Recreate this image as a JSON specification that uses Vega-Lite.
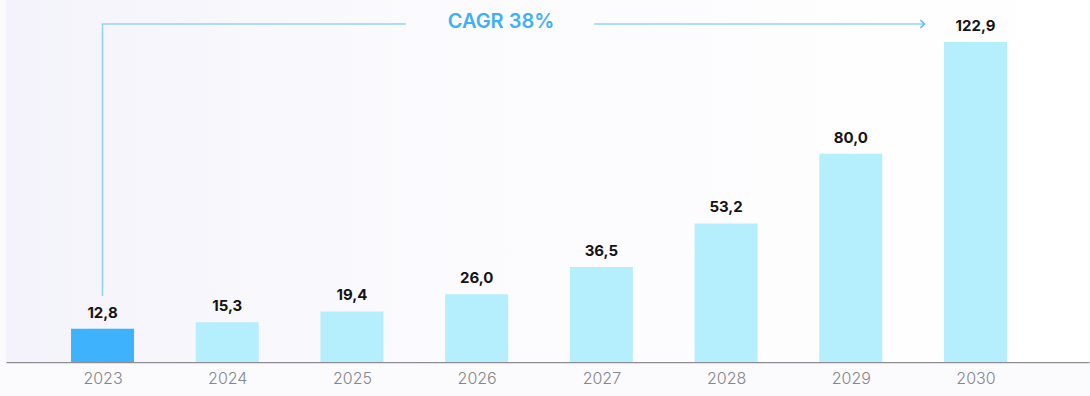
{
  "$schema": "https://vega.github.io/schema/vega-lite/v6.json",
  "width": 1083,
  "height": 362,
  "autosize": "none",
  "padding": {"left": 6, "right": 1, "top": 0, "bottom": 34},
  "background": "#fbfbfe",
  "config": {"view": {"stroke": null}, "font": "Inter"},
  "data": {"values": [
    {"year": 2023, "value": 12.8, "label": "12,8", "kind": "base"},
    {"year": 2024, "value": 15.3, "label": "15,3", "kind": "forecast"},
    {"year": 2025, "value": 19.4, "label": "19,4", "kind": "forecast"},
    {"year": 2026, "value": 26.0, "label": "26,0", "kind": "forecast"},
    {"year": 2027, "value": 36.5, "label": "36,5", "kind": "forecast"},
    {"year": 2028, "value": 53.2, "label": "53,2", "kind": "forecast"},
    {"year": 2029, "value": 80.0, "label": "80,0", "kind": "forecast"},
    {"year": 2030, "value": 122.9, "label": "122,9", "kind": "forecast"}
  ]},
  "encoding": {
    "x": {"field": "year", "type": "quantitative",
      "scale": {"domain": [2022.226, 2030.91], "nice": false, "zero": false, "padding": 0},
      "axis": {"values": [2023, 2024, 2025, 2026, 2027, 2028, 2029, 2030], "format": "d", "title": null,
        "grid": false, "ticks": false, "labelPadding": 8, "labelFontSize": 16, "labelColor": "#86868c",
        "labelFont": "Inter", "labelFontWeight": 300, "domainColor": "#8e8e92", "domainWidth": 1.6}}
  },
  "layer": [
    {
      "mark": {"type": "rect", "color": {"gradient": "linear", "x1": 0, "x2": 1, "y1": 0, "y2": 0,
        "stops": [{"offset": 0, "color": "#f4f3fb"}, {"offset": 0.4, "color": "#fbfbfe"}, {"offset": 1, "color": "#ffffff"}]}},
      "encoding": {"x": null}
    },
    {
      "mark": {"type": "bar", "width": 63},
      "encoding": {
        "y": {"field": "value", "type": "quantitative", "scale": {"domain": [0, 139], "nice": false}, "axis": null},
        "color": {"field": "kind", "type": "nominal", "scale": {"domain": ["base", "forecast"], "range": ["#3eb2fc", "#b5eefc"]}, "legend": null}
      }
    },
    {
      "mark": {"type": "text", "baseline": "alphabetic", "dy": -11, "fontSize": 15, "fontWeight": 700, "color": "#141414", "font": "Inter"},
      "encoding": {
        "y": {"field": "value", "type": "quantitative"},
        "text": {"field": "label"}
      }
    },
    {
      "data": {"values": [{"x": 2023, "y": 25.3, "y2": 129.8}]},
      "mark": {"type": "rule", "color": "#92d3fc", "strokeWidth": 1.6},
      "encoding": {
        "x": {"field": "x", "type": "quantitative"},
        "y": {"field": "y", "type": "quantitative"},
        "y2": {"field": "y2"}
      }
    },
    {
      "data": {"values": [{"x": 2023, "x2": 2025.425, "y": 129.8}, {"x": 2026.949, "x2": 2029.59, "y": 129.8}]},
      "mark": {"type": "rule", "color": "#92d3fc", "strokeWidth": 1.6, "strokeCap": "square"},
      "encoding": {
        "x": {"field": "x", "type": "quantitative"},
        "x2": {"field": "x2"},
        "y": {"field": "y", "type": "quantitative"}
      }
    },
    {
      "data": {"values": [{"x": 2029.59, "y": 129.8}]},
      "mark": {"type": "point", "shape": "M -1 -1 L 0 0 L -1 1", "filled": false, "size": 64, "stroke": "#5bbcf8", "strokeWidth": 1.6, "opacity": 1},
      "encoding": {
        "x": {"field": "x", "type": "quantitative"},
        "y": {"field": "y", "type": "quantitative"}
      }
    },
    {
      "data": {"values": [{"x": 2026.195, "y": 129.8, "text": "CAGR 38%"}]},
      "mark": {"type": "text", "baseline": "middle", "align": "center", "dy": -2, "fontSize": 20, "fontWeight": 600, "color": "#3fb0f5", "font": "Inter"},
      "encoding": {
        "x": {"field": "x", "type": "quantitative"},
        "y": {"field": "y", "type": "quantitative"},
        "text": {"field": "text"}
      }
    }
  ]
}
